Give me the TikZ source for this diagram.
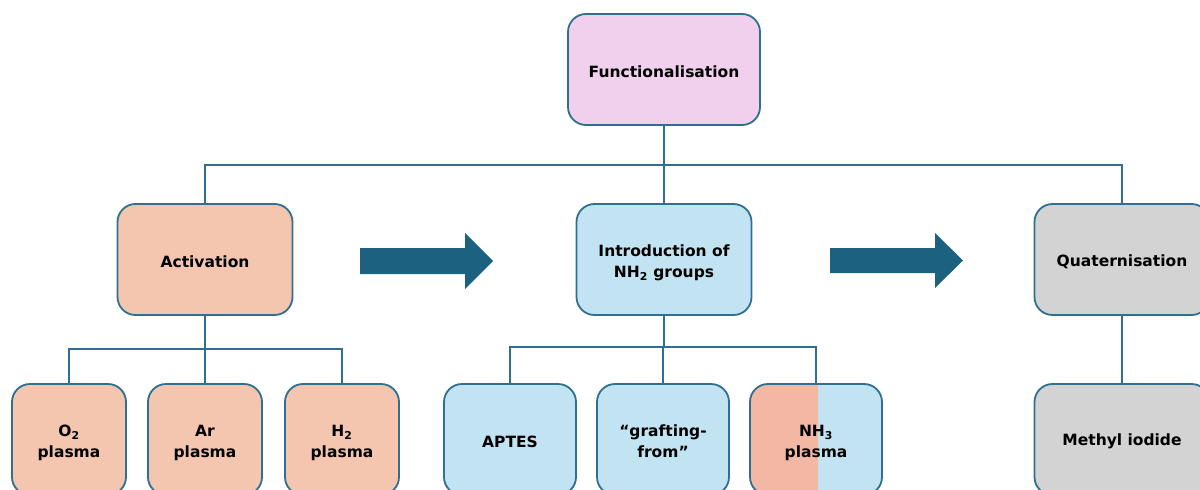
\documentclass[tikz,border=0pt]{standalone}
\usepackage{fontspec}
\setmainfont{DejaVu Sans}
\usetikzlibrary{positioning}
\definecolor{bord}{HTML}{2F6F8F}
\definecolor{arrowc}{HTML}{1D6181}
\definecolor{pinkf}{HTML}{F0D0EC}
\definecolor{salmf}{HTML}{F4C6B0}
\definecolor{salm2}{HTML}{F3B8A3}
\definecolor{bluef}{HTML}{C2E4F2}
\definecolor{greyf}{HTML}{D3D3D3}
\newcommand\twoln[2]{\begin{tabular}{@{}c@{}}\rule{0pt}{21.7pt}#1\\#2\end{tabular}}
\newcommand\onel[1]{\rule{0pt}{15.6pt}#1}
\tikzset{
  boxtext/.style={align=center, font=\bfseries\fontsize{15.5}{21}\selectfont, inner sep=0pt},
  box/.style={boxtext, draw=bord, line width=1.8pt, rounded corners=18pt},
  bigbox/.style={box, minimum width=175pt, minimum height=111pt},
  smallbox/.style={box, minimum width=114pt, minimum height=111pt},
  midbox/.style={box, minimum width=132pt, minimum height=111pt},
  conn/.style={draw=bord, line width=1.8pt},
  bigarrow/.style={fill=arrowc}
}
\begin{document}
\begin{tikzpicture}[x=1pt,y=-1pt]
\useasboundingbox (0,0) rectangle (1200,490);
\clip (0,0) rectangle (1200,490);
% top
\node[box, fill=pinkf, minimum width=192pt, minimum height=111pt] (fun) at (664,69.5) {\onel{Functionalisation}};
% level 2
\node[bigbox, fill=salmf] (act) at (205,259.5) {\onel{Activation}};
\node[bigbox, fill=bluef] (intro) at (664,259.5) {\twoln{Introduction of}{NH\textsubscript{2} groups}};
\node[bigbox, fill=greyf] (quat) at (1122,259.5) {\onel{Quaternisation}};
% level 3
\node[smallbox, fill=salmf] (o2) at (69,439.5) {\twoln{O\textsubscript{2}}{plasma}};
\node[smallbox, fill=salmf] (ar) at (205,439.5) {\twoln{Ar}{plasma}};
\node[smallbox, fill=salmf] (h2) at (342,439.5) {\twoln{H\textsubscript{2}}{plasma}};
\node[midbox, fill=bluef] (aptes) at (510,439.5) {\onel{APTES}};
\node[midbox, fill=bluef] (graft) at (663,439.5) {\twoln{“grafting-}{from”}};
\node[midbox, fill=bluef, draw=none, outer sep=0pt] (nh3) at (816,439.5) {};
\fill[salm2, rounded corners=18pt] (818,384) -- (nh3.north west) -- (nh3.south west) -- (818,495);
\draw[draw=bord, line width=1.8pt, rounded corners=18pt] (nh3.north west) rectangle (nh3.south east);
\node[boxtext] (nh3t) at (nh3.center) {\twoln{NH\textsubscript{3}}{plasma}};
\node[bigbox, fill=greyf] (mi) at (1122,439.5) {\onel{Methyl iodide}};
% connectors
\coordinate (bus1) at (664,165);
\draw[conn] (fun.south) -- (bus1);
\draw[conn] (act.north) |- (bus1) -| (quat.north);
\draw[conn] (bus1) -- (intro.north);
\coordinate (bus2) at (205,349);
\draw[conn] (act.south) -- (bus2);
\draw[conn] (o2.north) |- (bus2) -| (h2.north);
\draw[conn] (bus2) -- (ar.north);
\coordinate (bus3) at (664,347);
\draw[conn] (intro.south) -- (bus3);
\draw[conn] (aptes.north) |- (bus3) -| (nh3.north);
\draw[conn] (bus3) -| (graft.north);
\draw[conn] (quat.south) -- (mi.north);
% big arrows
\fill[bigarrow] (360,248) -- (465,248) -- (465,233) -- (493,261) -- (465,289) -- (465,274) -- (360,274) -- cycle;
\fill[bigarrow] (830,248) -- (935,248) -- (935,233) -- (963,260.5) -- (935,288) -- (935,273) -- (830,273) -- cycle;
\end{tikzpicture}
\end{document}
